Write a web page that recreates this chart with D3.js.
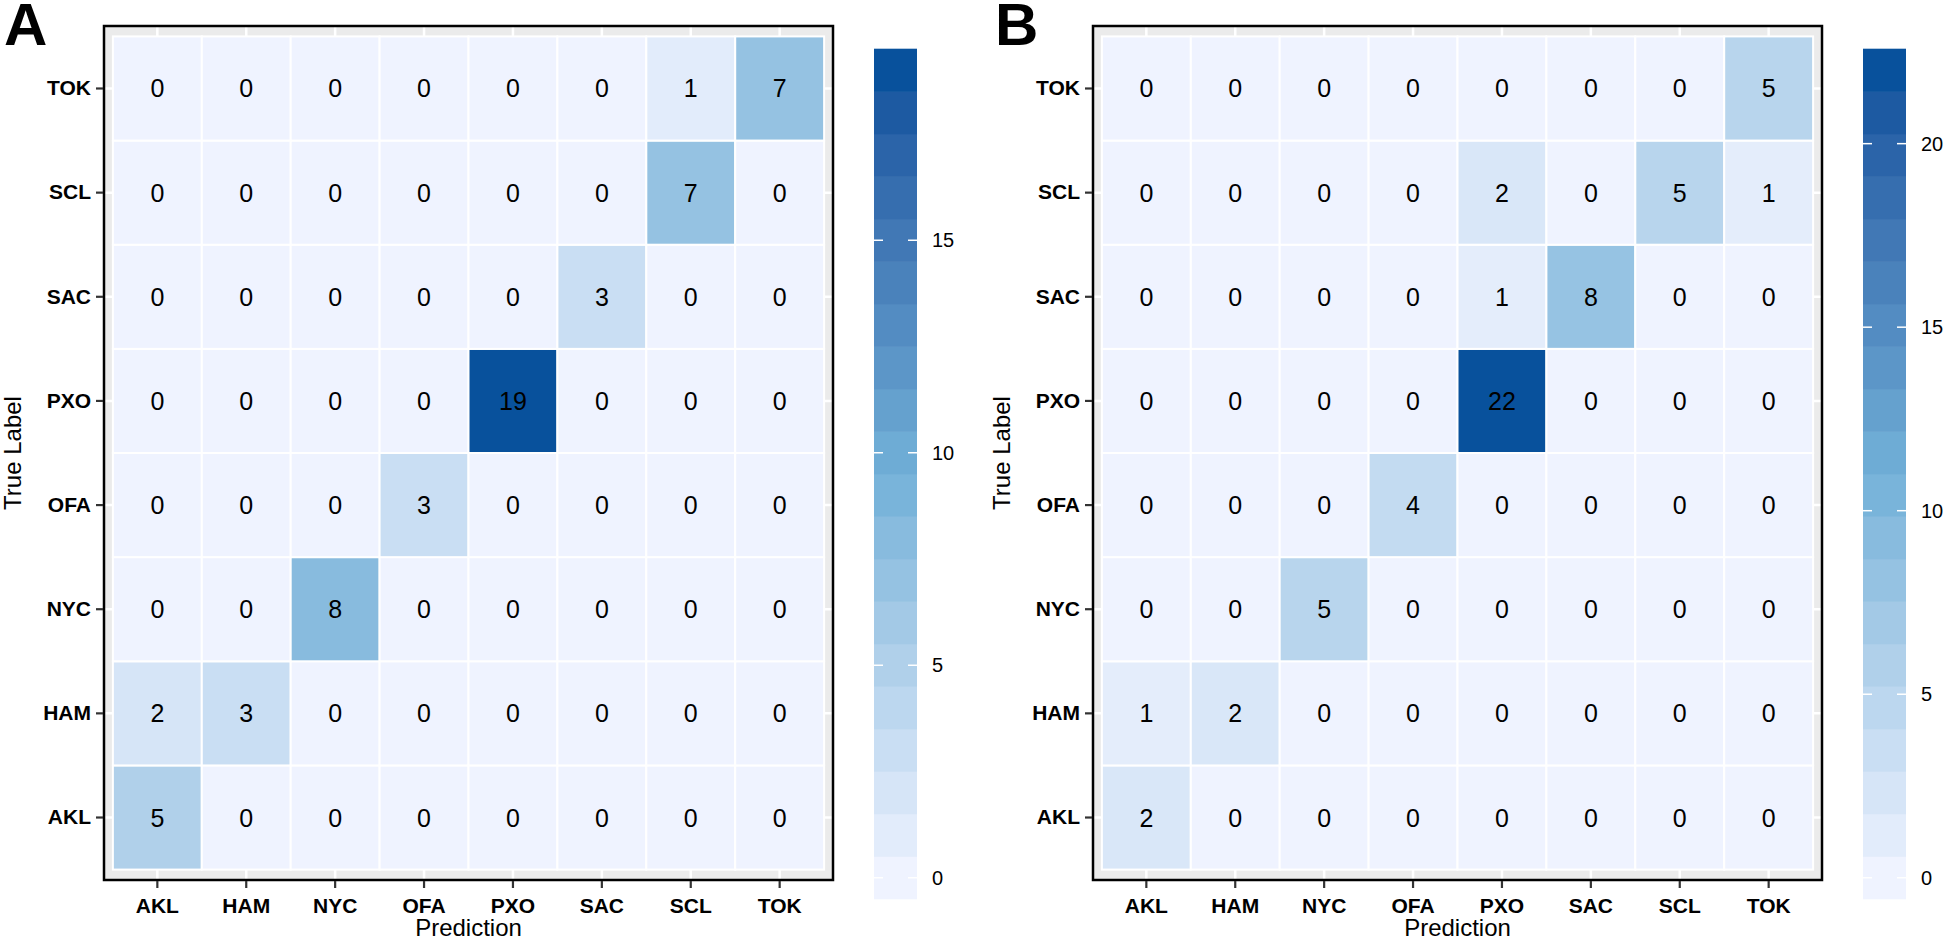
<!DOCTYPE html>
<html>
<head>
<meta charset="utf-8">
<script src="https://cdn.jsdelivr.net/npm/d3@7"></script>
<style>
  body { margin: 0; background: #fff; }
  svg { display: block; font-family: "Liberation Sans", Arial, Helvetica, sans-serif; }
</style>
</head>
<body>
<svg width="1946" height="941"></svg>
<script>
// class labels, same order on both axes
var labels = ['AKL', 'HAM', 'NYC', 'OFA', 'PXO', 'SAC', 'SCL', 'TOK'];

// confusion matrices, one row per true label (AKL .. TOK), columns = prediction
var matrixA = [
  [5, 0, 0, 0, 0, 0, 0, 0],
  [2, 3, 0, 0, 0, 0, 0, 0],
  [0, 0, 8, 0, 0, 0, 0, 0],
  [0, 0, 0, 3, 0, 0, 0, 0],
  [0, 0, 0, 0, 19, 0, 0, 0],
  [0, 0, 0, 0, 0, 3, 0, 0],
  [0, 0, 0, 0, 0, 0, 7, 0],
  [0, 0, 0, 0, 0, 0, 1, 7]
];
var matrixB = [
  [2, 0, 0, 0, 0, 0, 0, 0],
  [1, 2, 0, 0, 0, 0, 0, 0],
  [0, 0, 5, 0, 0, 0, 0, 0],
  [0, 0, 0, 4, 0, 0, 0, 0],
  [0, 0, 0, 0, 22, 0, 0, 0],
  [0, 0, 0, 0, 1, 8, 0, 0],
  [0, 0, 0, 0, 2, 0, 5, 1],
  [0, 0, 0, 0, 0, 0, 0, 5]
];
var legendBreaksA = [0, 5, 10, 15];
var legendBreaksB = [0, 5, 10, 15, 20];

// low / mid / high of the fill gradient
var blues = ['#EFF3FF', '#72B1D8', '#08519C'];

var svg = d3.select('svg');

function drawPanel(letter, matrix, breaks, dx) {
  var g = svg.append('g').attr('transform', `translate(${dx},0)`);
  var px0 = 104, px1 = 833, py0 = 26, py1 = 880;

  var cells = [];
  matrix.forEach((row, i) => row.forEach((v, j) => cells.push({truth: labels[i], pred: labels[j], n: v})));
  var maxN = d3.max(cells, d => d.n);

  var x = d3.scaleBand().domain(labels).range([px0, px1]).paddingOuter(0.1).paddingInner(0);
  var y = d3.scaleBand().domain(labels.slice().reverse()).range([py0, py1]).paddingOuter(0.1).paddingInner(0);
  var color = d3.scaleLinear()
    .domain(blues.map((c, i) => i * maxN / (blues.length - 1)))
    .range(blues)
    .interpolate(d3.interpolateLab);

  // panel background + grid
  g.append('rect').attr('x', px0).attr('y', py0).attr('width', px1 - px0).attr('height', py1 - py0)
    .attr('fill', '#EBEBEB');
  g.selectAll('.vgrid').data(labels).enter().append('line')
    .attr('x1', d => x(d) + x.bandwidth() / 2).attr('x2', d => x(d) + x.bandwidth() / 2)
    .attr('y1', py0).attr('y2', py1).attr('stroke', 'white').attr('stroke-width', 2.5);
  g.selectAll('.hgrid').data(labels).enter().append('line')
    .attr('y1', d => y(d) + y.bandwidth() / 2).attr('y2', d => y(d) + y.bandwidth() / 2)
    .attr('x1', px0).attr('x2', px1).attr('stroke', 'white').attr('stroke-width', 2.5);

  // tiles
  g.selectAll('rect.tile').data(cells).enter().append('rect')
    .attr('class', 'tile')
    .attr('x', d => x(d.pred)).attr('y', d => y(d.truth))
    .attr('width', x.bandwidth()).attr('height', y.bandwidth())
    .attr('fill', d => color(d.n))
    .attr('stroke', 'white').attr('stroke-width', 2);

  g.selectAll('text.val').data(cells).enter().append('text')
    .attr('class', 'val')
    .attr('x', d => x(d.pred) + x.bandwidth() / 2)
    .attr('y', d => y(d.truth) + y.bandwidth() / 2)
    .attr('dy', '0.36em')
    .attr('text-anchor', 'middle')
    .attr('font-size', 25)
    .text(d => d.n);

  // frame
  g.append('rect').attr('x', px0).attr('y', py0).attr('width', px1 - px0).attr('height', py1 - py0)
    .attr('fill', 'none').attr('stroke', 'black').attr('stroke-width', 2.5);

  // axes
  var xAxis = g.append('g').attr('transform', `translate(0,${py1 + 1})`)
    .call(d3.axisBottom(x).tickSize(7).tickPadding(5));
  var yAxis = g.append('g').attr('transform', `translate(${px0 - 1},0)`)
    .call(d3.axisLeft(y).tickSize(7).tickPadding(5));
  [xAxis, yAxis].forEach(a => {
    a.select('.domain').remove();
    a.selectAll('.tick line').attr('stroke', '#333').attr('stroke-width', 2.2);
    a.selectAll('.tick text').attr('font-size', 21).attr('font-weight', 'bold')
      .attr('fill', 'black').attr('font-family', null);
  });
  xAxis.selectAll('.tick text').attr('dy', '0.95em');

  g.append('text').attr('x', (px0 + px1) / 2).attr('y', 936)
    .attr('text-anchor', 'middle').attr('font-size', 24).text('Prediction');
  g.append('text').attr('transform', `translate(21,${(py0 + py1) / 2}) rotate(-90)`)
    .attr('text-anchor', 'middle').attr('font-size', 24).text('True Label');

  g.append('text').attr('x', letter === 'A' ? 4 : 6).attr('y', 45)
    .attr('font-size', 60).attr('font-weight', 'bold').text(letter);

  // colour bar, 20 bins like ggplot's colourbar
  var nbin = 20, bx0 = 874, bx1 = 917, by0 = 49, by1 = 899;
  var binH = (by1 - by0) / nbin;
  var bins = d3.range(nbin).map(i => i * maxN / (nbin - 1));
  var yLeg = d3.scaleLinear().domain([0, maxN]).range([by1 - binH / 2, by0 + binH / 2]);
  g.selectAll('rect.bin').data(bins).enter().append('rect')
    .attr('class', 'bin')
    .attr('x', bx0).attr('width', bx1 - bx0)
    .attr('y', d => yLeg(d) - binH / 2 - 0.3).attr('height', binH + 0.6)
    .attr('fill', d => color(d));
  var tk = g.selectAll('g.ltick').data(breaks).enter().append('g').attr('class', 'ltick');
  tk.append('line').attr('x1', bx0).attr('x2', bx0 + 9)
    .attr('y1', d => yLeg(d)).attr('y2', d => yLeg(d)).attr('stroke', 'white').attr('stroke-width', 1.5);
  tk.append('line').attr('x1', bx1 - 9).attr('x2', bx1)
    .attr('y1', d => yLeg(d)).attr('y2', d => yLeg(d)).attr('stroke', 'white').attr('stroke-width', 1.5);
  tk.append('text').attr('x', 932).attr('y', d => yLeg(d)).attr('dy', '0.36em')
    .attr('font-size', 20).text(d => d);
}

drawPanel('A', matrixA, legendBreaksA, 0);
drawPanel('B', matrixB, legendBreaksB, 989);
</script>
</body>
</html>
